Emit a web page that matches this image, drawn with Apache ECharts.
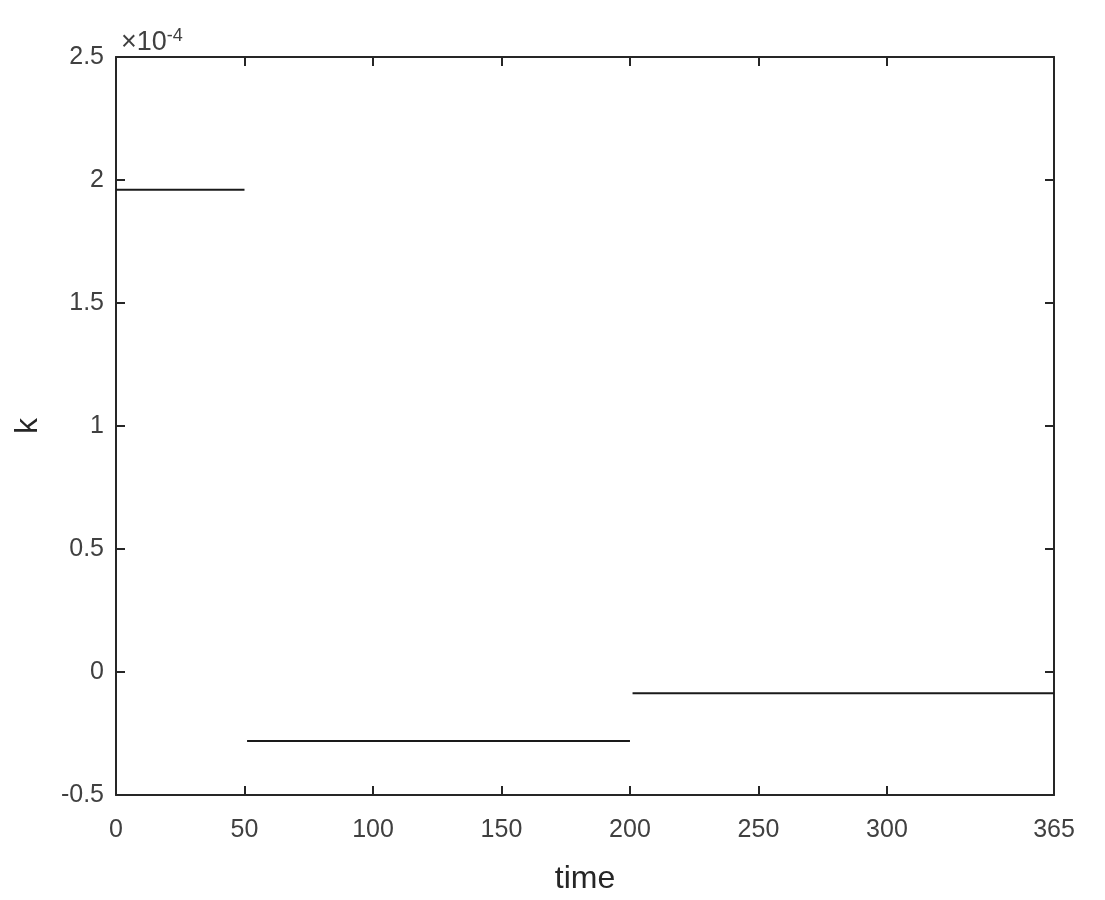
<!DOCTYPE html>
<html>
<head>
<meta charset="utf-8">
<script src="https://cdn.jsdelivr.net/npm/echarts@6/dist/echarts.min.js"></script>
<style>
    html, body { margin: 0; padding: 0; background: #fff; }
    #chart { width: 1105px; height: 900px; }
</style>
</head>
<body>
<div id="chart"></div>
<script>
    // piecewise constant k over the year
    var segStart = [0, 51, 201];
    var segEnd = [50, 200, 365];
    var kValues = [1.96e-4, -0.28e-4, -0.086e-4];
    var xTicks = [0, 50, 100, 150, 200, 250, 300, 365];
    var yTicks = [-0.5e-4, 0, 0.5e-4, 1e-4, 1.5e-4, 2e-4, 2.5e-4];

    var axisColor = '#262626';
    var font = 'Liberation Sans, Arial, sans-serif';

    var chart = echarts.init(document.getElementById('chart'));

    var series = segStart.map(function (s, i) {
        return {
            type: 'line',
            xAxisIndex: 0,
            yAxisIndex: 0,
            symbol: 'none',
            animation: false,
            lineStyle: { color: '#1a1a1a', width: 2 },
            data: [[s, kValues[i]], [segEnd[i], kValues[i]]]
        };
    });

    var boxAxis = {
        axisLine: { show: true, onZero: false, lineStyle: { color: axisColor, width: 2 } },
        axisTick: { show: true, inside: true, length: 9, lineStyle: { color: axisColor, width: 2 } },
        splitLine: { show: false }
    };

    chart.setOption({
        backgroundColor: '#fff',
        animation: false,
        title: {
            text: '{a|×10}{b|-4}',
            left: 116,
            top: 22,
            textStyle: {
                fontWeight: 'normal',
                rich: {
                    a: { fontFamily: font, fontSize: 27, color: '#404040' },
                    b: { fontFamily: font, fontSize: 18, color: '#404040', verticalAlign: 'top', padding: [0, 0, 14, 0] }
                }
            }
        },
        grid: { left: 116, right: 51, top: 57, bottom: 104 },
        xAxis: [
            Object.assign({}, boxAxis, {
                type: 'value',
                position: 'bottom',
                min: 0,
                max: 365,
                name: 'time',
                nameLocation: 'middle',
                nameGap: 68,
                nameTextStyle: { fontFamily: font, fontSize: 32, color: '#262626' },
                axisTick: Object.assign({}, boxAxis.axisTick, { customValues: xTicks }),
                axisLabel: {
                    customValues: xTicks,
                    margin: 23,
                    fontFamily: font,
                    fontSize: 25,
                    color: '#404040'
                }
            }),
            Object.assign({}, boxAxis, {
                type: 'value',
                position: 'top',
                min: 0,
                max: 365,
                axisTick: Object.assign({}, boxAxis.axisTick, { customValues: xTicks }),
                axisLabel: { show: false }
            })
        ],
        yAxis: [
            Object.assign({}, boxAxis, {
                type: 'value',
                position: 'left',
                min: -0.5e-4,
                max: 2.5e-4,
                interval: 0.5e-4,
                name: 'k',
                nameLocation: 'middle',
                nameGap: 72,
                nameTextStyle: { fontFamily: font, fontSize: 32, color: '#262626' },
                axisTick: Object.assign({}, boxAxis.axisTick, { customValues: yTicks }),
                axisLabel: {
                    customValues: yTicks,
                    margin: 12,
                    fontFamily: font,
                    fontSize: 25,
                    color: '#404040',
                    formatter: function (v) {
                        return String(Math.round(v * 1e5) / 10);
                    }
                }
            }),
            Object.assign({}, boxAxis, {
                type: 'value',
                position: 'right',
                min: -0.5e-4,
                max: 2.5e-4,
                interval: 0.5e-4,
                axisTick: Object.assign({}, boxAxis.axisTick, { customValues: yTicks }),
                axisLabel: { show: false }
            })
        ],
        series: series
    });
</script>
</body>
</html>
